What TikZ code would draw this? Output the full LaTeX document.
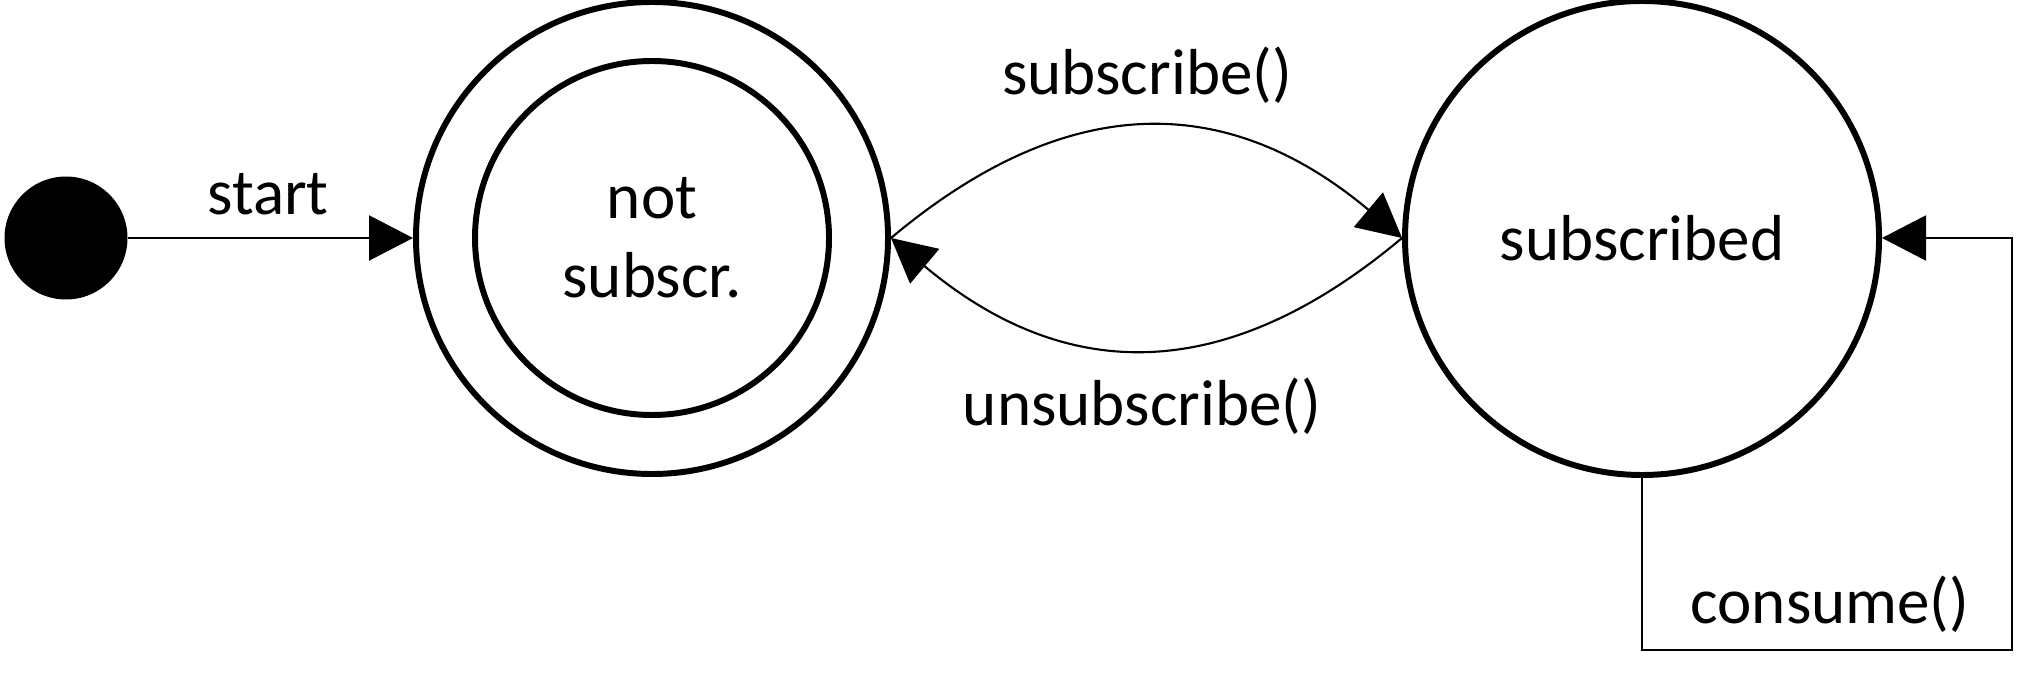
\documentclass[tikz,border=0pt]{standalone}
\usepackage{fontspec}
\setmainfont{Carlito}
\usetikzlibrary{arrows.meta}

\begin{document}
\begin{tikzpicture}[
    state/.style={draw, circle, line width=1.7pt, inner sep=0pt, align=center},
    trans/.style={line width=0.6pt, -{Triangle[length=0.44cm, width=0.45cm]}},
    every node/.style={font=\fontsize{18.5}{22.5}\selectfont}
  ]
    \useasboundingbox (0, 0) rectangle (20.19, 6.75);
    \node [circle, fill, inner sep=0pt, minimum size=1.23cm] (init) at (0.66, 4.37) {};
    \node [state, minimum size=4.72cm] (nsub) at (6.52, 4.37) {};
    \node [state, minimum size=3.54cm] (nsubin) at (6.52, 4.37) {not\\subscr.};
    \node [state, minimum size=4.74cm] (sub) at (16.42, 4.37) {subscribed};
    \coordinate (loop) at (20.12, 0.25);
    % transitions
    \draw [trans] (init) -- (nsub.west);
    \node [anchor=base] (lstart) at (2.68, 4.60) {start};
    \draw [trans] (nsub.east) to [out=40, in=140, looseness=1.15] (sub.west);
    \node [anchor=base] (lsub) at (11.47, 5.80) {subscribe()};
    \draw [trans] (sub.west) to [out=220, in=-40, looseness=1.15] (nsub.east);
    \node [anchor=base] (lunsub) at (11.42, 2.50) {unsubscribe()};
    \draw [trans] (sub.south) |- (loop) |- (sub.east);
    \node [anchor=base] (lcons) at (18.30, 0.52) {consume()};
\end{tikzpicture}
\end{document}
